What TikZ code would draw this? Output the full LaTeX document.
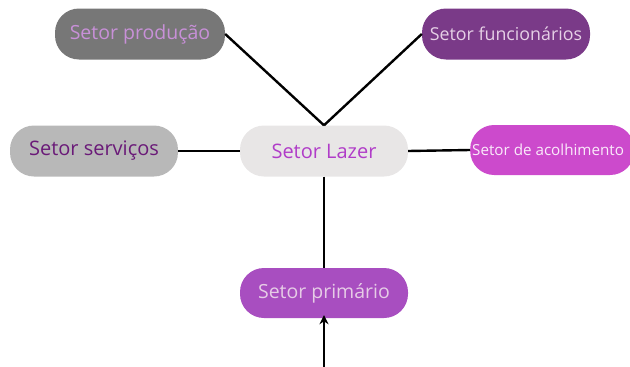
\documentclass[tikz,border=0pt]{standalone}
\usepackage{fontspec}
\setmainfont{Open Sans}
\usetikzlibrary{arrows.meta}
\definecolor{prodfill}{HTML}{777777}
\definecolor{prodtext}{HTML}{C890D8}
\definecolor{funcfill}{HTML}{7A3A88}
\definecolor{functext}{HTML}{E6D0E6}
\definecolor{servfill}{HTML}{B8B8B8}
\definecolor{servtext}{HTML}{6A1A78}
\definecolor{lazfill}{HTML}{E8E6E6}
\definecolor{laztext}{HTML}{B03CC8}
\definecolor{acolfill}{HTML}{CC4ACC}
\definecolor{acoltext}{HTML}{FAEAFA}
\definecolor{primfill}{HTML}{A84EC0}
\definecolor{primtext}{HTML}{E6CCE6}
\tikzset{
  pill/.style={rounded corners=24pt, inner sep=0pt, minimum height=51pt, minimum width=168pt},
  conn/.style={line width=2.4pt, black},
}
\begin{document}
\begin{tikzpicture}[x=1pt,y=-1pt]
\useasboundingbox (0,0) rectangle (630,367);
\clip (0,0) rectangle (630,367);
\node[pill, fill=prodfill, text=prodtext, minimum width=170pt, font=\fontsize{19.5}{22}\selectfont] (prod) at (140,34) {Setor produção};
\node[pill, fill=funcfill, text=functext, font=\fontsize{17.8}{22}\selectfont] (func) at (506,34) {Setor funcionários};
\node[pill, fill=servfill, text=servtext, font=\fontsize{20}{22}\selectfont] (serv) at (94,151) {Setor serviços};
\node[pill, fill=lazfill, text=laztext, font=\fontsize{20}{22}\selectfont] (laz) at (324,151) {Setor Lazer};
\node[pill, fill=acolfill, text=acoltext, minimum width=0pt, inner xsep=2pt, minimum height=50pt, anchor=west, font=\fontsize{15.2}{18}\selectfont] (acol) at (470,150) {\makebox[160pt][l]{Setor de acolhimento}};
\node[pill, fill=primfill, text=primtext, minimum height=50pt, font=\fontsize{19.5}{22}\selectfont] (prim) at (324,293) {Setor primário};
\coordinate (bot) at (324,370);
\draw[conn] (prod.east) -- (laz.north);
\draw[conn] (func.west) -- (laz.north);
\draw[conn] (serv.east) -- (laz.west);
\draw[conn] (laz.east) -- (acol.west);
\draw[conn] (laz.south) -- (prim.north);
\draw[conn, -{Stealth[length=9pt,width=9pt]}] (bot) -- ([yshift=3pt]prim.south);
\end{tikzpicture}
\end{document}
